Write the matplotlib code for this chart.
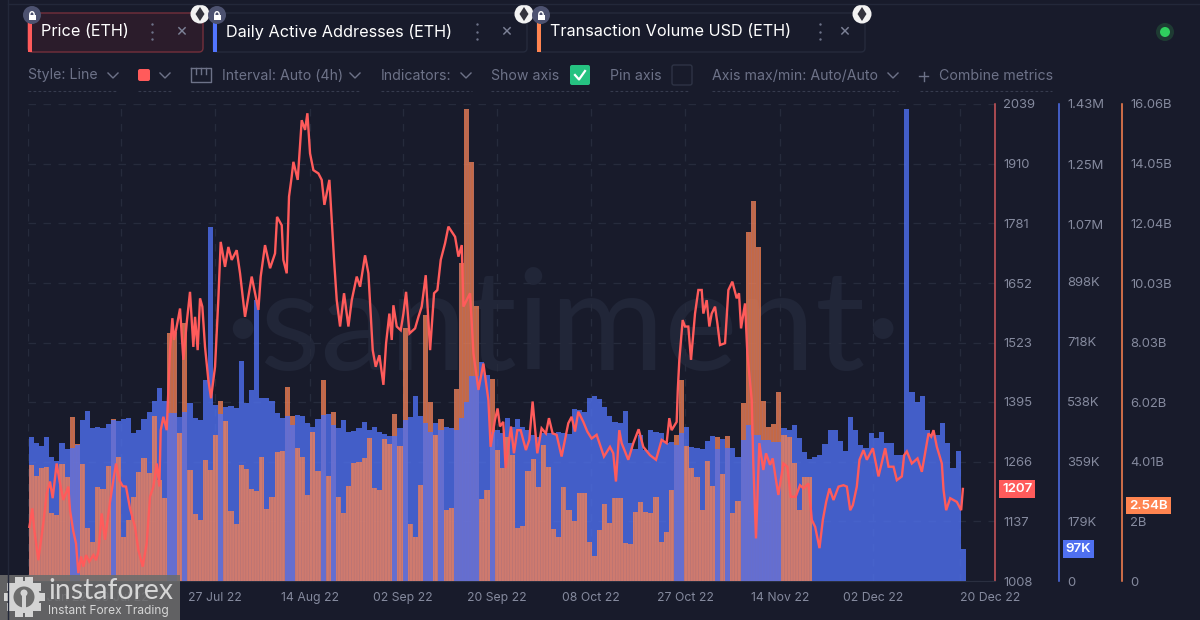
import numpy as np
import matplotlib
matplotlib.use("Agg")
import matplotlib.pyplot as plt
from matplotlib.patches import Rectangle, FancyBboxPatch, Circle, Polygon

plt.rcParams['font.family'] = ['Inter', 'DejaVu Sans']
plt.rcParams['hatch.linewidth'] = 0.4

# Daily active addresses, thousands, one bar per day
daa_k = [433, 413, 405, 431, 371, 360, 413, 395, 398, 408, 483, 510, 460, 461, 460, 471, 484, 479, 485, 489,
         443, 453, 485, 508, 540, 578, 541, 503, 503, 493, 508, 533, 488, 483, 603, 1062, 528, 500, 523, 525,
         520, 660, 535, 573, 843, 550, 549, 541, 505, 489, 495, 468, 497, 495, 473, 461, 485, 498, 500, 468,
         460, 483, 448, 450, 458, 478, 453, 461, 446, 441, 435, 435, 458, 483, 493, 555, 495, 473, 448, 473,
         453, 463, 458, 453, 488, 538, 615, 615, 657, 618, 448, 453, 443, 488, 461, 485, 463, 453, 438, 433,
         443, 445, 445, 448, 443, 441, 515, 513, 506, 548, 555, 545, 521, 495, 478, 475, 510, 413, 395, 438,
         393, 453, 448, 443, 413, 418, 408, 445, 463, 403, 400, 396, 420, 435, 395, 425, 398, 398, 373, 423,
         468, 438, 438, 423, 423, 418, 418, 458, 453, 468, 428, 388, 365, 373, 378, 411, 453, 453, 420, 390,
         493, 453, 408, 398, 443, 428, 448, 415, 415, 378, 378, 1416, 568, 538, 555, 453, 440, 438, 473, 415,
         340, 391, 97]

# Transaction volume, billions USD (no bars after mid November)
volume_b = [3.90, 3.53, 3.79, 3.83, 2.28, 2.22, 3.94, 3.49, 5.51, 4.60, 3.94, 1.80, 1.32, 3.15, 3.09, 3.87, 5.44, 4.19, 1.49, 2.05,
            2.82, 3.68, 4.13, 3.62, 5.55, 3.40, 2.78, 8.35, 8.40, 4.97, 8.69, 3.74, 2.26, 2.05, 4.07, 3.74, 4.91, 6.07, 5.39, 2.36,
            1.92, 3.90, 3.76, 3.09, 3.03, 4.16, 2.41, 2.82, 4.33, 4.38, 6.53, 5.55, 4.47, 4.19, 2.91, 5.03, 3.70, 6.77, 3.53, 5.68,
            2.82, 2.28, 3.20, 3.96, 3.99, 4.15, 4.80, 3.12, 3.06, 4.77, 4.61, 5.61, 4.56, 8.52, 1.92, 1.49, 3.23, 8.96, 6.04, 4.91,
            5.44, 2.39, 2.45, 6.46, 10.71, 15.89, 14.11, 9.26, 2.75, 3.06, 6.80, 4.41, 3.79, 4.86, 4.24, 1.80, 1.85, 3.71, 4.10, 3.18,
            4.58, 3.83, 1.74, 1.49, 3.18, 2.39, 2.03, 2.95, 2.95, 1.31, 0.85, 1.72, 2.59, 1.96, 2.78, 2.78, 1.29, 1.23, 2.31, 2.67,
            2.33, 2.30, 2.82, 1.32, 1.66, 3.06, 4.91, 6.77, 4.56, 3.79, 3.51, 2.39, 4.04, 3.21, 4.86, 3.60, 4.88, 2.30, 2.70, 5.98,
            11.75, 12.79, 11.25, 6.07, 5.19, 5.28, 6.36, 4.91, 4.84, 3.98, 2.39, 3.51, 3.51]

# Price line: day offset and USD
price_day = [-0.38, 0.20, 0.59, 1.37, 2.34, 2.99, 3.64, 4.16, 4.93, 5.58, 6.23, 7.20, 7.53, 8.18, 8.70, 9.15, 9.67, 10.12,
             10.64, 11.29, 12.07, 12.59, 13.04, 13.69, 14.34, 15.31, 15.96, 16.48, 17.13, 17.78, 18.42, 19.20, 20.17, 20.82,
             21.67, 22.44, 23.09, 23.74, 24.39, 24.91, 25.17, 25.69, 26.34, 26.66, 26.98, 27.44, 27.76, 28.28, 28.93, 29.58,
             30.22, 30.87, 31.52, 31.85, 32.36, 32.82, 33.27, 33.79, 34.44, 34.96, 35.74, 36.39, 36.84, 37.68, 38.33, 38.98,
             39.95, 40.60, 41.57, 42.22, 42.87, 44.17, 44.62, 45.46, 46.44, 47.41, 47.80, 48.71, 49.03, 49.68, 50.13, 50.65,
             50.98, 51.82, 52.60, 53.25, 53.70, 54.22, 54.87, 55.84, 56.49, 57.01, 57.98, 58.89, 59.41, 60.06, 60.83, 61.68,
             62.33, 63.30, 63.95, 64.92, 65.57, 66.41, 66.99, 67.71, 68.49, 69.01, 69.65, 70.11, 70.43, 71.08, 71.86, 72.38,
             72.90, 73.55, 74.65, 75.30, 75.94, 76.72, 77.57, 78.34, 78.99, 79.64, 80.48, 81.13, 82.43, 83.08, 83.73, 84.05,
             85.35, 86.00, 86.97, 87.94, 88.91, 89.34, 90.18, 90.70, 91.16, 91.80, 92.26, 93.30, 93.88, 94.53, 95.18, 96.21,
             96.86, 97.51, 98.42, 99.26, 100.10, 100.69, 101.40, 102.18, 103.15, 104.45, 105.10, 105.75, 106.40, 107.37,
             108.15, 108.99, 109.96, 111.39, 112.56, 113.20, 113.72, 114.37, 114.83, 116.12, 117.10, 118.13, 119.04, 120.34,
             121.51, 122.61, 123.58, 124.10, 124.55, 125.53, 125.75, 126.05, 126.70, 127.15, 127.80, 128.32, 129.10, 129.75,
             130.40, 130.72, 131.37, 131.89, 132.34, 132.99, 133.45, 133.96, 134.94, 135.59, 136.36, 137.21, 137.66, 138.05,
             138.83, 139.28, 140.13, 140.44, 140.96, 141.61, 142.39, 142.91, 143.69, 144.20, 145.31, 146.28, 147.06, 147.71,
             148.68, 149.52, 150.20, 151.17, 151.82, 152.47, 153.31, 153.96, 154.61, 155.26, 156.04, 157.01, 157.98, 158.63,
             159.28, 159.80, 160.57, 161.09, 161.87, 162.52, 163.69, 164.79, 166.09, 166.74, 167.71, 168.36, 169.33, 169.78,
             170.30, 171.27, 172.38, 173.22, 174.52, 175.04, 175.49, 176.14, 177.11, 177.44, 177.95, 178.73, 180.03, 180.87,
             181.20]
price_usd = [1125, 1165, 1118, 1053, 1133, 1197, 1223, 1187, 1262, 1219, 1183, 1212, 1161, 1115, 1089, 1025, 1061, 1039,
             1064, 1050, 1064, 1053, 1071, 1154, 1097, 1179, 1226, 1262, 1226, 1213, 1212, 1165, 1125, 1075,
             1039, 1089, 1190, 1212, 1262, 1212, 1334, 1363, 1334, 1421, 1507, 1576, 1529, 1558, 1597, 1486,
             1565, 1633, 1514, 1579, 1507, 1619, 1601, 1514, 1442, 1403, 1471, 1619, 1741, 1687, 1730, 1702,
             1723, 1673, 1579, 1622, 1666, 1594, 1666, 1734, 1684, 1716, 1795, 1777, 1702, 1673, 1839, 1882,
             1914, 1875, 2004, 1983, 2019, 1932, 1896, 1889, 1875, 1821, 1875, 1702, 1615, 1558, 1630, 1558,
             1615, 1666, 1644, 1712, 1673, 1507, 1471, 1496, 1432, 1522, 1586, 1529, 1604, 1558, 1550, 1586,
             1633, 1543, 1554, 1579, 1601, 1669, 1507, 1630, 1637, 1702, 1738, 1774, 1752, 1709, 1734, 1601,
             1630, 1500, 1421, 1478, 1399, 1298, 1356, 1381, 1342, 1352, 1252, 1342, 1284, 1334, 1334, 1291,
             1313, 1396, 1284, 1338, 1327, 1360, 1327, 1324, 1277, 1349, 1363, 1331, 1374, 1352,
             1331, 1316, 1324, 1277, 1298, 1284, 1223, 1334, 1306, 1270, 1306, 1336, 1298, 1280,
             1270, 1313, 1306, 1360, 1334, 1352, 1421, 1486, 1572, 1558, 1558, 1486, 1586, 1637,
             1637, 1586, 1615, 1558, 1586, 1601, 1565, 1518, 1522, 1637, 1655, 1619, 1630, 1554,
             1608, 1500, 1399, 1262, 1100, 1306, 1248, 1284, 1259, 1273, 1194, 1262, 1255, 1190,
             1190, 1215, 1208, 1219, 1140, 1125, 1079, 1140, 1179, 1208, 1183, 1212, 1215, 1212,
             1161, 1172, 1212, 1270, 1291, 1270, 1295, 1234, 1295, 1255, 1255, 1226, 1234, 1280,
             1288, 1262, 1273, 1244, 1327, 1320, 1334, 1298, 1262, 1205, 1161, 1187, 1179, 1161,
             1207]

# the app spaces its date ticks evenly, so they fall between the daily bars
tick_days = [-0.6, 17.5, 35.9, 54.4, 72.6, 91, 109.3, 127.7, 146.2, 164.4, 181.4]
tick_labels = ['20 Jun 22', '09 Jul 22', '27 Jul 22', '14 Aug 22', '02 Sep 22', '20 Sep 22',
               '08 Oct 22', '27 Oct 22', '14 Nov 22', '02 Dec 22', '20 Dec 22']

price_ticks = [1008, 1137, 1266, 1395, 1523, 1652, 1781, 1910, 2039]
daa_ticks = [0, 179, 359, 538, 718, 898, 1070, 1250, 1430]
daa_tick_labels = ['0', '179K', '359K', '538K', '718K', '898K', '1.07M', '1.25M', '1.43M']
volume_ticks = [0, 2, 4.01, 6.02, 8.03, 10.03, 12.04, 14.05, 16.06]
volume_tick_labels = ['0', '2B', '4.01B', '6.02B', '8.03B', '10.03B', '12.04B', '14.05B', '16.06B']

BG = '#181b2b'
RED = '#ff5b5b'
BLUE = '#4f70f0'
ORANGE = '#ff8450'
TICK = '#858a9e'
MUTED = '#6d7288'

days = np.arange(len(daa_k))
daa = np.array(daa_k, dtype=float)
volume = np.zeros(len(days))
volume[:len(volume_b)] = volume_b
daa_top = daa / 1430
volume_top = volume / 16.06

fig = plt.figure(figsize=(12, 6.2), dpi=100, facecolor=BG)
rect = [28 / 1200, 39 / 620, 967 / 1200, 477 / 620]

# base axes: price scale, grid, dates and the watermark behind everything
ax = fig.add_axes(rect, facecolor=BG)
xlim = (-0.645, 188.2)
ax.set_xlim(*xlim)
ax.set_ylim(1008, 2039)
ax.grid(True, color='#262b3c', linestyle=(0, (6, 6)), linewidth=0.9)
ax.set_axisbelow(True)
ax.text(0.553, 0.525, '·santiment·', transform=ax.transAxes, ha='center', va='center',
        fontsize=100, color='#212638', family=['Lato', 'DejaVu Sans'], zorder=0.5)
ax.set_xticks(tick_days, tick_labels)
ax.tick_params(axis='x', length=0, colors=TICK, labelsize=8.8, pad=8)
xt = ax.get_xticklabels()
xt[0].set_ha('left')
xt[-1].set_ha('left')
for s in ['left', 'top']:
    ax.spines[s].set_visible(False)
ax.spines['bottom'].set_color('#2a2f40')

# taller blue bars first, orange over them, shorter blue bars on top
back = daa_top >= volume_top
ax_back = ax.twinx()
ax_back.set_ylim(0, 1430)
ax_back.bar(days[back], daa[back], width=1.0, color=BLUE, alpha=0.8, linewidth=0)
ax_back.set_yticks(daa_ticks, daa_tick_labels)
ax_back.tick_params(axis='y', length=0, colors=TICK, labelsize=9.4, pad=6)
ax_back.spines['right'].set_position(('outward', 46))
ax_back.spines['right'].set_color(BLUE)
ax_back.spines['right'].set_linewidth(1.1)
for s in ['left', 'top', 'bottom']:
    ax_back.spines[s].set_visible(False)

ax_vol = ax.twinx()
ax_vol.set_ylim(0, 16.06)
ax_vol.bar(days, volume, width=1.0, color=ORANGE, alpha=0.75, linewidth=0, hatch='||||||',
           edgecolor='#a8707a')
ax_vol.set_yticks(volume_ticks, volume_tick_labels)
ax_vol.tick_params(axis='y', length=0, colors=TICK, labelsize=9.4, pad=6)
ax_vol.spines['right'].set_position(('outward', 91.5))
ax_vol.spines['right'].set_color(ORANGE)
ax_vol.spines['right'].set_linewidth(1.1)
for s in ['left', 'top', 'bottom']:
    ax_vol.spines[s].set_visible(False)

ax_front = ax.twinx()
ax_front.set_ylim(0, 1430)
ax_front.bar(days[~back], daa[~back], width=1.0, color=BLUE, alpha=0.8, linewidth=0)
ax_front.axis('off')

# price line (its day offsets were read on a scale 0.4% tighter than the bars)
ax_line = ax.twinx()
ax_line.set_ylim(1008, 2039)
ax_line.plot(np.array(price_day) * 1.004, price_usd, color=RED, linewidth=1.7, solid_joinstyle='miter')
ax_line.axis('off')
ax.set_xlim(*xlim)

# twinx puts the first axis back on the left, so the price scale is set last
ax.yaxis.tick_right()
ax.set_yticks(price_ticks, [str(t) for t in price_ticks])
ax.tick_params(axis='y', length=0, colors=TICK, labelsize=9.4, pad=6)
ax.spines['right'].set_color('#d0585c')
ax.spines['right'].set_linewidth(1.1)

# value tags on the axes
tag_font = dict(color='white', fontsize=9.6, weight='semibold', va='center', ha='left')
ax_line.annotate('1207', xy=(1, 1207), xycoords=ax_line.get_yaxis_transform(), xytext=(5.2, 0),
                 textcoords='offset points', annotation_clip=False,
                 bbox=dict(boxstyle='square,pad=0.22', fc=RED, ec='none'), **tag_font)
ax_line.annotate('97K', xy=(1, 97), xycoords=ax_back.get_yaxis_transform(), xytext=(51, 0),
                 textcoords='offset points', annotation_clip=False,
                 bbox=dict(boxstyle='square,pad=0.22', fc=BLUE, ec='none'), **tag_font)
ax_line.annotate('2.54B', xy=(1, 2.54), xycoords=ax_vol.get_yaxis_transform(), xytext=(96.5, 0),
                 textcoords='offset points', annotation_clip=False,
                 bbox=dict(boxstyle='square,pad=0.22', fc=ORANGE, ec='none'), **tag_font)

# overlay in pixel coordinates for the toolbar, tabs and logo
ui = fig.add_axes([0, 0, 1, 1], facecolor='none')
ui.set_xlim(0, 1200)
ui.set_ylim(620, 0)
ui.axis('off')
ui.plot([8, 8], [0, 620], color='#23283a', linewidth=1)
ui.plot([8, 1200], [4, 4], color='#23283a', linewidth=1)


def tab(x0, x1, color, label, dots_x, close_x, active=False):
    fc = '#2b1c2b' if active else BG
    ec = '#74303b' if active else '#252a3c'
    ui.add_patch(FancyBboxPatch((x0, 13), x1 - x0, 39, boxstyle='round,pad=0,rounding_size=4', fc=fc, ec=ec, lw=1))
    ui.add_patch(Rectangle((x0, 18), 4, 34, fc=color, ec='none'))
    ui.text(x0 + 13, 36.5, label, color='white', fontsize=11.7, va='baseline')
    ui.scatter([dots_x] * 3, [24, 31.5, 39], s=3, color='#6d7288', linewidths=0)
    ui.text(close_x, 31, '×', color='#7c8196', fontsize=13, ha='center', va='center')
    # lock badge
    ui.add_patch(Circle((x0 + 4, 15), 9, fc='#4d5270', ec='none'))
    ui.add_patch(Rectangle((x0 + 0.5, 14.5), 7, 5.5, fc='white', ec='none'))
    ui.plot(x0 + 4 + 2.2 * np.cos(np.linspace(0, np.pi, 12)), 14.5 - 2.8 * np.sin(np.linspace(0, np.pi, 12)),
            color='white', lw=1)
    # coin badge
    ui.add_patch(Circle((x1 - 3, 14), 9.5, fc='#f2f2f2', ec='none'))
    ui.add_patch(Polygon([(x1 - 3, 7), (x1 + 1.5, 14), (x1 - 3, 21), (x1 - 7.5, 14)], fc='#33333d', ec='none'))


tab(28, 203, RED, 'Price (ETH)', 152, 181, active=True)
tab(213, 527, '#5275ff', 'Daily Active Addresses (ETH)', 477, 506)
tab(537, 865, ORANGE, 'Transaction Volume USD (ETH)', 820, 844)

# connection dot
ui.add_patch(Circle((1165, 32), 9, fc='#1e3b33', ec='none'))
ui.add_patch(Circle((1165, 32), 5, fc='#2fd05e', ec='none'))

# toolbar row
toolbar = [(28, 'Style: Line'), (222, 'Interval: Auto (4h)'), (381, 'Indicators:'), (491, 'Show axis'),
           (610, 'Pin axis'), (712, 'Axis max/min: Auto/Auto'), (939, 'Combine metrics')]
for tx, label in toolbar:
    ui.text(tx, 79.5, label, color=MUTED, fontsize=10.2, va='baseline')
for cx in [113, 165, 355, 466, 893]:
    ui.plot([cx - 5, cx, cx + 5], [73, 78, 73], color=MUTED, linewidth=1)
for u0, u1 in [(28, 118), (138, 172), (191, 360), (381, 472), (491, 590), (610, 690), (712, 898), (920, 1052)]:
    ui.plot([u0, u1], [91, 91], color='#363b4e', linewidth=0.8, linestyle=(0, (2.5, 2)))
ui.add_patch(FancyBboxPatch((138, 69), 12, 12, boxstyle='round,pad=0,rounding_size=2', fc=RED, ec='none'))
ui.plot([191, 191, 211, 211, 191], [68, 82, 82, 68, 68], color=MUTED, linewidth=1)
for ix in [196, 201, 206]:
    ui.plot([ix, ix], [68, 74], color=MUTED, linewidth=1)
ui.add_patch(FancyBboxPatch((570, 65), 20, 20, boxstyle='round,pad=0,rounding_size=2', fc='#26c281', ec='none'))
ui.plot([575, 579, 585], [75, 79.5, 71], color='white', linewidth=1.6)
ui.add_patch(FancyBboxPatch((672, 65), 20, 20, boxstyle='round,pad=0,rounding_size=2', fc=BG, ec='#2e3345', lw=1))
ui.plot([919, 928], [76, 76], color=MUTED, linewidth=1)
ui.plot([923.5, 923.5], [71.5, 80.5], color=MUTED, linewidth=1)

# broker logo on a grey box over the first date labels
ui.add_patch(Rectangle((0, 575), 180, 45, fc='#6c6c6c', ec='none', alpha=0.88))
angles = np.linspace(0, 2 * np.pi, 10, endpoint=False)
ui.scatter(24 + 16.5 * np.cos(angles), 597 + 16.5 * np.sin(angles), s=26, color='#d4d4d4', marker='s', linewidths=0)
ui.add_patch(Circle((24, 597), 16, fc='#d4d4d4', ec='none'))
ui.add_patch(Circle((24, 597), 10.5, fc='#6c6c6c', ec='none'))
ui.add_patch(Circle((24, 593), 3.5, fc='#d4d4d4', ec='none'))
ui.add_patch(Rectangle((22.3, 595), 3.4, 14, fc='#d4d4d4', ec='none'))
ui.text(48, 591, 'instaforex', color='#d6d6d6', fontsize=20.4, va='center', family=['Lato', 'DejaVu Sans'])
ui.text(48, 611, 'Instant Forex Trading', color='#d6d6d6', fontsize=8.6, va='center')

fig.savefig('out.png', dpi=100, facecolor=BG)
